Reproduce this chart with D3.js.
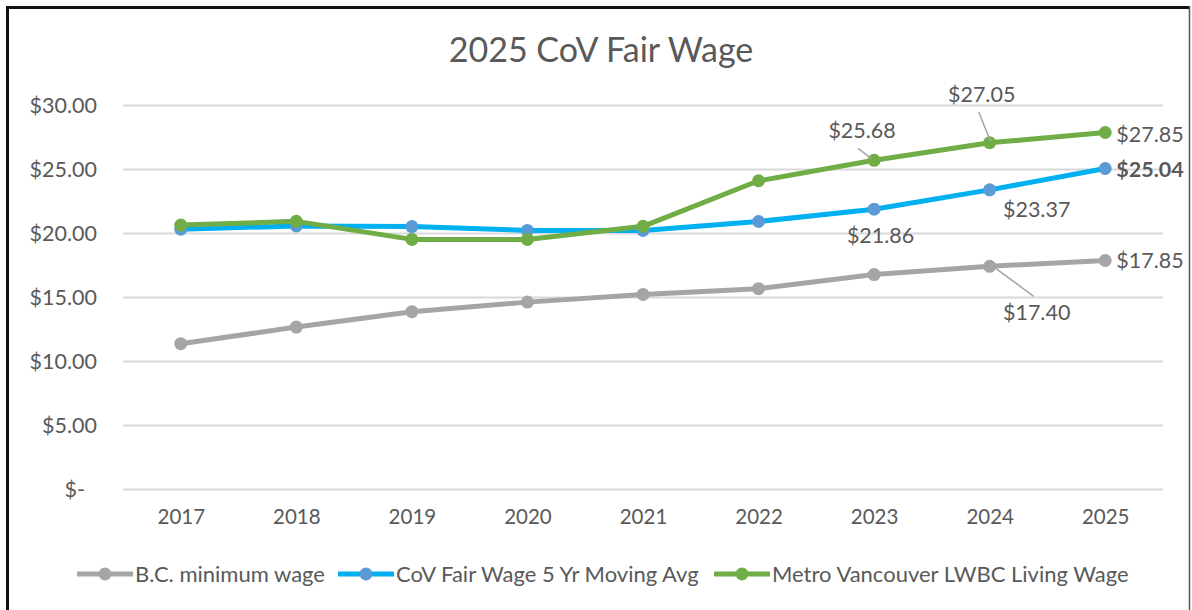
<!DOCTYPE html>
<html>
<head>
<meta charset="utf-8">
<script src="https://cdn.jsdelivr.net/npm/d3@7"></script>
<style>
  body { margin: 0; background: #fff; }
  text { font-family: Lato, "Open Sans", sans-serif; fill: #595959; }
</style>
</head>
<body>
<div id="chart"></div>
<script>
var width  = 1192;
var height = 610;

// data
var years      = ["2017","2018","2019","2020","2021","2022","2023","2024","2025"];
var minWage    = [11.35, 12.65, 13.85, 14.60, 15.20, 15.65, 16.75, 17.40, 17.85];
var fairWage   = [20.30, 20.55, 20.50, 20.20, 20.20, 20.90, 21.86, 23.37, 25.04];
var livingWage = [20.62, 20.91, 19.50, 19.50, 20.52, 24.08, 25.68, 27.05, 27.85];
var yTicks     = [0, 5, 10, 15, 20, 25, 30];
var seriesNames = ["B.C. minimum wage", "CoV Fair Wage 5 Yr Moving Avg", "Metro Vancouver LWBC Living Wage"];

var series = [
  { name: seriesNames[0], values: minWage,    line: "#a5a5a5", dot: "#a5a5a5" },
  { name: seriesNames[1], values: fairWage,   line: "#00b0f0", dot: "#5b9bd5" },
  { name: seriesNames[2], values: livingWage, line: "#70ad47", dot: "#70ad47" }
];

// labels: series index, year index, offsets from the point, leader line
var labels = [
  { s: 2, i: 6, dx: -12, dy: -22, anchor: "middle", lead: [[-3, -2], [-16, -12]] },
  { s: 2, i: 7, dx: -8,  dy: -41, anchor: "middle", lead: [[1, -1], [-11, -31]] },
  { s: 2, i: 8, dx: 11,  dy: 9,   anchor: "start" },
  { s: 1, i: 8, dx: 11,  dy: 8.5, anchor: "start", bold: true },
  { s: 1, i: 7, dx: 47,  dy: 27,  anchor: "middle" },
  { s: 1, i: 6, dx: 6.5, dy: 34,  anchor: "middle" },
  { s: 0, i: 8, dx: 11,  dy: 7.5, anchor: "start" },
  { s: 0, i: 7, dx: 47,  dy: 54,  anchor: "middle", lead: [[6, 2], [44, 30]] }
];

var svg = d3.select("#chart").append("svg")
  .attr("width", width)
  .attr("height", height);

// chart border: heavy left/top, thin right
svg.append("path")
  .attr("d", "M7.5," + height + "V7.5H1189")
  .attr("fill", "none")
  .attr("stroke", "#111")
  .attr("stroke-width", 3);
svg.append("line")
  .attr("x1", 1189.5).attr("x2", 1189.5).attr("y1", 6).attr("y2", height)
  .attr("stroke", "#555").attr("stroke-width", 1.5);

var x = d3.scalePoint().domain(years).range([123, 1163]).padding(0.5);
var y = d3.scaleLinear().domain([0, 30]).range([489, 105]);

// title
svg.append("text")
  .attr("x", 601).attr("y", 62)
  .attr("text-anchor", "middle")
  .style("font-size", "34px")
  .text("2025 CoV Fair Wage");

// gridlines + y labels
var yAxis = d3.axisLeft(y)
  .tickValues(yTicks)
  .tickSize(-1040)
  .tickPadding(26)
  .tickFormat(function(d) { return d === 0 ? "$-" : "$" + d3.format(".2f")(d); });

var gy = svg.append("g").attr("transform", "translate(123,0)").call(yAxis);
gy.select(".domain").remove();
gy.selectAll(".tick line").attr("stroke", "#d9d9d9").attr("stroke-width", 2);
gy.selectAll(".tick text").style("font-size", "21.5px").attr("dy", "0.35em");
gy.selectAll(".tick").filter(function(d) { return d === 0; }).select("text").attr("dx", -12);

// x labels
var xAxis = d3.axisBottom(x).tickSize(0).tickPadding(20);
var gx = svg.append("g").attr("transform", "translate(0,489)").call(xAxis);
gx.select(".domain").remove();
gx.selectAll(".tick text").style("font-size", "20.5px");

// lines and markers
var line = d3.line()
  .x(function(d, i) { return x(years[i]); })
  .y(function(d) { return y(d); });

series.forEach(function(s) {
  svg.append("path")
    .datum(s.values)
    .attr("fill", "none")
    .attr("stroke", s.line)
    .attr("stroke-width", 5)
    .attr("stroke-linejoin", "round")
    .attr("d", line);
  svg.selectAll(null)
    .data(s.values)
    .enter().append("circle")
    .attr("cx", function(d, i) { return x(years[i]); })
    .attr("cy", function(d) { return y(d); })
    .attr("r", 6.5)
    .attr("fill", s.dot);
});

// data labels
labels.forEach(function(l) {
  var v = series[l.s].values[l.i];
  var px = x(years[l.i]), py = y(v);
  if (l.lead) {
    svg.append("line")
      .attr("x1", px + l.lead[0][0]).attr("y1", py + l.lead[0][1])
      .attr("x2", px + l.lead[1][0]).attr("y2", py + l.lead[1][1])
      .attr("stroke", "#a5a5a5").attr("stroke-width", 1.5);
  }
  svg.append("text")
    .attr("x", px + l.dx).attr("y", py + l.dy)
    .attr("text-anchor", l.anchor)
    .style("font-size", "21.5px")
    .style("font-weight", l.bold ? "bold" : "normal")
    .text("$" + d3.format(".2f")(v));
});

// legend
var legendX = [77, 338, 714];
series.forEach(function(s, i) {
  var g = svg.append("g").attr("transform", "translate(" + legendX[i] + ",574)");
  g.append("line")
    .attr("x1", 0).attr("x2", 56).attr("y1", 0).attr("y2", 0)
    .attr("stroke", s.line).attr("stroke-width", 5);
  g.append("circle").attr("cx", 28).attr("cy", 0).attr("r", 6.5).attr("fill", s.dot);
  g.append("text")
    .attr("x", 58).attr("y", 0).attr("dy", "0.35em")
    .style("font-size", "22px")
    .text(s.name);
});
</script>
</body>
</html>
